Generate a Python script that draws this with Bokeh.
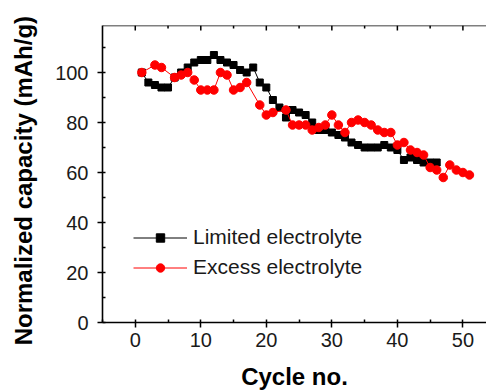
from bokeh.plotting import figure
from bokeh.models import Range1d, SingleIntervalTicker, Legend, LegendItem, Span
from bokeh.embed import file_html
from bokeh.resources import INLINE

# Limited electrolyte (black squares)
limited_cycles = list(range(1, 47))
limited_values = [100, 96, 95, 94, 94, 98, 100, 102, 104, 105,
                  105, 107, 105, 104, 103, 101, 100, 102, 96, 94,
                  89, 86, 82, 85, 84, 83, 80, 77, 77, 76,
                  75, 74, 72, 71, 70, 70, 70, 71, 70, 69,
                  65, 66, 65, 64, 64, 64]

# Excess electrolyte (red circles)
excess_cycles = [1, 3, 4, 6, 7, 8, 9, 10, 11, 12, 13, 14, 15, 16, 17, 19, 20, 21,
                 23, 24, 25, 26, 27, 28, 29, 30, 31, 32, 33, 34, 35, 36, 37, 38,
                 39, 40, 41, 42, 43, 44, 45, 46, 47, 48, 49, 50, 51]
excess_values = [100, 103, 102, 98, 99, 100, 97, 93, 93, 93, 100, 99, 93, 94, 96, 87, 83, 84,
                 85, 79, 79, 79, 77, 78, 79, 83, 79, 76, 80, 81, 80, 79, 77, 76,
                 76, 71, 72, 69, 68, 67, 62, 61, 58, 63, 61, 60, 59]

# tick positions for the mirrored top axis
x_major_ticks = [0, 10, 20, 30, 40, 50]
x_minor_ticks = [5, 15, 25, 35, 45]

X_MIN, X_MAX = -5, 53.6
Y_MIN, Y_MAX = 0, 118.8

FONT = "Liberation Sans"

p = figure(width=486, height=392, output_backend="svg", toolbar_location=None,
           x_range=Range1d(X_MIN, X_MAX), y_range=Range1d(Y_MIN, Y_MAX),
           min_border_left=102, min_border_right=0, min_border_top=25, min_border_bottom=70,
           x_axis_label="Cycle no.",
           y_axis_label="Normalized capacity (mAh/g)" + "\u00a0" * 2)
p.outline_line_color = None
p.xgrid.visible = False
p.ygrid.visible = False
p.background_fill_color = "white"
p.border_fill_color = "white"

p.xaxis.ticker = SingleIntervalTicker(interval=10, num_minor_ticks=2)
p.yaxis.ticker = SingleIntervalTicker(interval=20, num_minor_ticks=2)

for ax in (p.xaxis[0], p.yaxis[0]):
    ax.axis_line_width = 1.6
    ax.axis_line_color = "black"
    ax.major_tick_line_width = 1.5
    ax.minor_tick_line_width = 1.5
    ax.major_tick_out = 5
    ax.major_tick_in = 0
    ax.minor_tick_out = 0
    ax.minor_tick_in = 3
    ax.major_label_text_font = FONT
    ax.major_label_text_font_size = "20px"
    ax.major_label_text_color = "#1a1a1a"
    ax.axis_label_text_font = FONT
    ax.axis_label_text_font_style = "bold"
    ax.axis_label_text_color = "black"

p.xaxis.axis_label_text_font_size = "24px"
p.yaxis.axis_label_text_font_size = "24px"
p.xaxis.major_label_standoff = 5
p.xaxis.axis_label_standoff = 13
p.yaxis.major_label_standoff = 9
p.yaxis.axis_label_standoff = 15

# mirrored top frame line with inward ticks
p.add_layout(Span(location=Y_MAX, dimension="width", line_color="black", line_width=1.6))
tick_major_len = 2.0
tick_minor_len = 1.2
p.segment(x0=x_major_ticks, x1=x_major_ticks, y0=[Y_MAX] * len(x_major_ticks),
          y1=[Y_MAX - tick_major_len] * len(x_major_ticks), line_color="black", line_width=1.5)
p.segment(x0=x_minor_ticks, x1=x_minor_ticks, y0=[Y_MAX] * len(x_minor_ticks),
          y1=[Y_MAX - tick_minor_len] * len(x_minor_ticks), line_color="black", line_width=1.5)

l1 = p.line(limited_cycles, limited_values, line_color="black", line_width=1)
s1 = p.scatter(limited_cycles, limited_values, marker="square", size=7,
               fill_color="black", line_color="black")
l2 = p.line(excess_cycles, excess_values, line_color="#ff0000", line_width=1)
s2 = p.scatter(excess_cycles, excess_values, marker="circle", size=8.5,
               fill_color="#ff0000", line_color="#ff0000")

legend = Legend(items=[LegendItem(label="Limited electrolyte", renderers=[l1, s1]),
                       LegendItem(label="Excess electrolyte", renderers=[l2, s2])],
                location=(31, 43))
legend.border_line_color = None
legend.background_fill_alpha = 0
legend.padding = 0
legend.margin = 0
legend.glyph_width = 54
legend.glyph_height = 21
legend.label_height = 21
legend.spacing = 6
legend.label_standoff = 6
legend.label_text_font = FONT
legend.label_text_font_size = "21px"
legend.label_text_color = "#1a1a1a"
p.add_layout(legend, "center")

open("out.html", "w").write(file_html(p, INLINE))
